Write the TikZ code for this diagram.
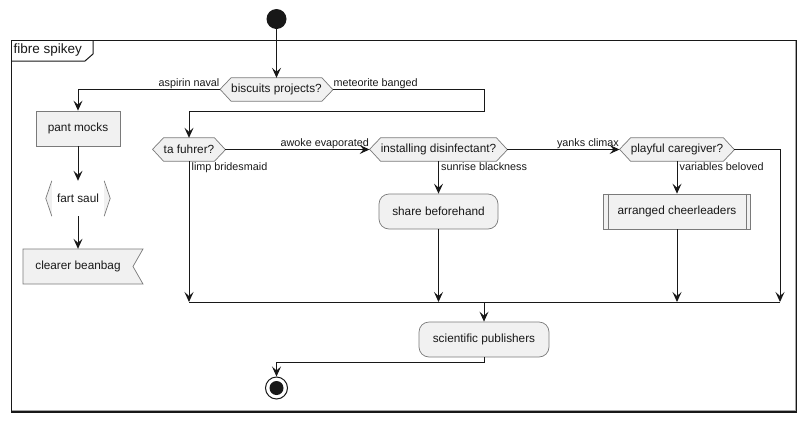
\documentclass[tikz,border=0pt]{standalone}
\usepackage{fontspec}
\setmainfont{Liberation Sans}
\usetikzlibrary{arrows.meta}
\pgfdeclarelayer{background}
\pgfsetlayers{background,main}
\definecolor{nfill}{HTML}{F1F1F1}
\definecolor{nline}{HTML}{7A7A7A}
\definecolor{ink}{HTML}{181818}
\begin{document}
\begin{tikzpicture}[x=1pt,y=-1pt,
  txt/.style={font=\fontsize{11.8}{13}\selectfont, inner sep=0pt, text=ink},
  lbl/.style={font=\fontsize{10.8}{12}\selectfont, inner sep=0.5pt, text=ink},
  dec/.style={txt, minimum height=23pt},
  act/.style={txt, draw=nline, fill=nfill, minimum height=35pt, line width=0.7pt},
  rnd/.style={act, rounded corners=10pt},
  flow/.style={draw=ink, line width=1pt, -{Stealth[length=10pt,width=9pt,inset=4pt]}},
  wire/.style={draw=ink, line width=1pt},
  shp/.style={draw=nline, fill=nfill, line width=0.7pt},
]
\useasboundingbox (0,0) rectangle (806,421);
% frame
\draw[gray!70, line width=0.8pt] (795,41) -- (795,410.3) -- (12,410.3);
\draw[ink, line width=1.4pt] (11.5,40.5) rectangle (796.6,411.8);
\draw[ink, line width=1pt] (11.5,61) -- (85,61) -- (93,54) -- (93,40.5);
\node[font=\fontsize{13.5}{15}\selectfont, inner sep=0pt, anchor=west, text=ink] (title) at (13.5,50.5) {fibre spikey};
% start / end
\node[circle, fill=ink, minimum size=20pt, inner sep=0pt] (start) at (276.5,19) {};
\node[circle, draw=ink, line width=1pt, minimum size=22pt, inner sep=0pt] (end) at (276.5,388) {};
\fill[ink] (end.center) circle (7);
% decisions
\node[dec, minimum width=86pt] (b) at (276.5,89.5) {biscuits projects?};
\node[dec, minimum width=50pt] (t) at (189,149.5) {ta fuhrer?};
\node[dec, minimum width=107pt] (i) at (438.5,149.5) {installing disinfectant?};
\node[dec, minimum width=88pt] (p) at (677,149.5) {playful caregiver?};
\foreach \n in {b,t,i,p}{
  \coordinate (\n L) at ([xshift=-11pt]\n.west);
  \coordinate (\n R) at ([xshift=11pt]\n.east);
}
% activities
\node[act, minimum width=84pt] (pm) at (78,128.5) {pant mocks};
\node[txt, minimum width=52pt, minimum height=35pt] (fs) at (78,198.5) {fart saul};
\node[txt, minimum height=35pt] (cb) at (78,266.5) {clearer beanbag};
\node[rnd, minimum width=119pt] (sb) at (438.5,211.5) {share beforehand};
\node[act, minimum width=147pt] (ac) at (677,211.5) {arranged cheerleaders};
\draw[nline, line width=0.7pt] ([xshift=5pt]ac.north west) -- ([xshift=5pt]ac.south west);
\draw[nline, line width=0.7pt] ([xshift=-5pt]ac.north east) -- ([xshift=-5pt]ac.south east);
\node[rnd, minimum width=130pt] (sp) at (484,339.5) {scientific publishers};
\begin{pgfonlayer}{background}
  \foreach \n in {b,t,i,p}
    \draw[shp] (\n.north west) -- ++(-11,11.5) -- (\n.south west) -- (\n.south east) -- ++(11,-11.5) -- (\n.north east) -- cycle;
  \fill[nfill] (fs.north west) -- ++(-6,17.5) -- (fs.south west) -- cycle;
  \fill[nfill] (fs.north east) -- ++(6,17.5) -- (fs.south east) -- cycle;
  \draw[shp] (23,249) -- (143,249) -- (133,266.5) -- (143,284) -- (23,284) -- cycle;
\end{pgfonlayer}
\draw[nline, line width=0.7pt] (fs.north west) -- ++(-6,17.5) -- (fs.south west);
\draw[nline, line width=0.7pt] (fs.north east) -- ++(6,17.5) -- (fs.south east);
% merge coordinates
\coordinate (m1) at (189,302);
\coordinate (m2) at (438.5,302);
\coordinate (m3) at (677,302);
\coordinate (m4) at (780,302);
\coordinate (m0) at (484,302);
% connectors
\draw[flow] (start) -- (b.north);
\draw[flow] (bL) -| (pm.north);
\draw[flow] (pm.south) -- (fs.north);
\draw[flow] (fs.south) -- (cb.north);
\draw[flow] (bR) -| (484,111) -| (t.north);
\draw[flow] (tR) -- (iL);
\draw[flow] (iR) -- (pL);
\draw[flow] (t.south) -- (m1);
\draw[flow] (i.south) -- (sb.north);
\draw[flow] (sb.south) -- (m2);
\draw[flow] (p.south) -- (ac.north);
\draw[flow] (ac.south) -- (m3);
\draw[flow] (pR) -| (m4);
\draw[wire] (m1) -- (m4);
\draw[flow] (m0) -- (sp.north);
\draw[flow] (sp.south) -- ++(0,5) -| (end.north);
% labels
\node[lbl, anchor=south east] (l1) at (bL) {aspirin naval};
\node[lbl, anchor=south west] (l2) at (bR) {meteorite banged};
\node[lbl, anchor=south east] (l3) at (iL) {awoke evaporated};
\node[lbl, anchor=south east] (l5) at (pL) {yanks climax};
\node[lbl, anchor=north west] (l4) at ([xshift=2pt,yshift=-1pt]t.south) {limp bridesmaid};
\node[lbl, anchor=north west] (l6) at ([xshift=2pt,yshift=-1pt]i.south) {sunrise blackness};
\node[lbl, anchor=north west] (l7) at ([xshift=2pt,yshift=-1pt]p.south) {variables beloved};
\end{tikzpicture}
\end{document}
